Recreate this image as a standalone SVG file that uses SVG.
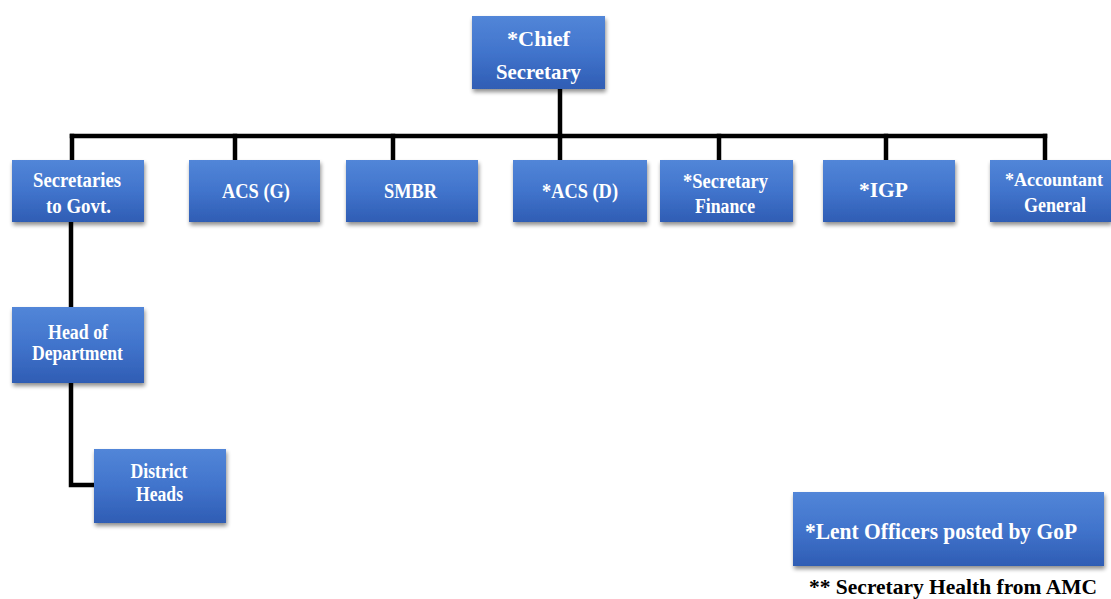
<svg xmlns="http://www.w3.org/2000/svg" width="1111" height="599" viewBox="0 0 1111 599">
<defs>
<linearGradient id="bg" x1="0" y1="0" x2="0" y2="1">
<stop offset="0" stop-color="#5286d8"/>
<stop offset="0.5" stop-color="#4174cc"/>
<stop offset="1" stop-color="#2f5db4"/>
</linearGradient>
<filter id="sh" x="-10%" y="-10%" width="125%" height="135%">
<feGaussianBlur in="SourceAlpha" stdDeviation="2"/>
<feOffset dx="1" dy="3" result="b"/>
<feComponentTransfer><feFuncA type="linear" slope="0.45"/></feComponentTransfer>
<feMerge><feMergeNode/><feMergeNode in="SourceGraphic"/></feMerge>
</filter>
</defs>
<style>
.box{fill:url(#bg);filter:url(#sh);}
.t{font-family:"Liberation Serif","Times New Roman",serif;font-weight:bold;font-size:20px;fill:#ffffff;text-anchor:middle;}
.t1{font-size:21px;}
.tc{font-size:22px;}
.ts{font-size:18.5px;}
.ln{stroke:#000;stroke-width:4.5;fill:none;stroke-linecap:square;}
</style>
<rect width="1111" height="599" fill="#ffffff"/>
<g id="connectors">
<path class="ln" d="M560 89 V136"/>
<path class="ln" d="M72 136 H1045"/>
<path class="ln" d="M72 136 V160"/>
<path class="ln" d="M235 136 V160"/>
<path class="ln" d="M393 136 V160"/>
<path class="ln" d="M560 136 V160"/>
<path class="ln" d="M719 136 V160"/>
<path class="ln" d="M886 136 V160"/>
<path class="ln" d="M1045 136 V160"/>
<path class="ln" d="M71 222 V307"/>
<path class="ln" d="M71 383 V485 H94"/>
</g>
<g id="chief">
<rect class="box" x="472" y="16" width="133" height="73"/>
<text class="t tc" x="538.5" y="45.5" textLength="63" lengthAdjust="spacingAndGlyphs">*Chief</text>
<text class="t tc" x="538.5" y="79" textLength="85" lengthAdjust="spacingAndGlyphs">Secretary</text>
</g>
<g id="secretaries">
<rect class="box" x="12" y="160" width="132" height="62"/>
<text class="t" x="77" y="187" textLength="88" lengthAdjust="spacingAndGlyphs">Secretaries</text>
<text class="t" x="78.5" y="213" textLength="65" lengthAdjust="spacingAndGlyphs">to Govt.</text>
</g>
<g id="acsg">
<rect class="box" x="189" y="160" width="131" height="62"/>
<text class="t t1" x="256" y="197.5" textLength="68" lengthAdjust="spacingAndGlyphs">ACS (G)</text>
</g>
<g id="smbr">
<rect class="box" x="346" y="160" width="132" height="62"/>
<text class="t t1" x="410.5" y="197.5" textLength="53" lengthAdjust="spacingAndGlyphs">SMBR</text>
</g>
<g id="acsd">
<rect class="box" x="513" y="160" width="134" height="62"/>
<text class="t t1" x="580" y="197.5" textLength="76" lengthAdjust="spacingAndGlyphs">*ACS (D)</text>
</g>
<g id="secfinance">
<rect class="box" x="660" y="160" width="133" height="62"/>
<text class="t" x="725.5" y="188" textLength="85" lengthAdjust="spacingAndGlyphs">*Secretary</text>
<text class="t" x="725" y="212.5" textLength="60" lengthAdjust="spacingAndGlyphs">Finance</text>
</g>
<g id="igp">
<rect class="box" x="823" y="160" width="132" height="62"/>
<text class="t t1" x="883.5" y="197" textLength="49" lengthAdjust="spacingAndGlyphs">*IGP</text>
</g>
<g id="accountant">
<rect class="box" x="990" y="160" width="121" height="62"/>
<text class="t ts" x="1054" y="186" textLength="98" lengthAdjust="spacingAndGlyphs">*Accountant</text>
<text class="t" x="1055" y="212" textLength="62" lengthAdjust="spacingAndGlyphs">General</text>
</g>
<g id="headdept">
<rect class="box" x="12" y="307" width="132" height="76"/>
<text class="t" x="78" y="339" textLength="60" lengthAdjust="spacingAndGlyphs">Head of</text>
<text class="t" x="77.5" y="360" textLength="91" lengthAdjust="spacingAndGlyphs">Department</text>
</g>
<g id="district">
<rect class="box" x="94" y="449" width="132" height="74"/>
<text class="t" x="159" y="478" textLength="57" lengthAdjust="spacingAndGlyphs">District</text>
<text class="t" x="159.5" y="501" textLength="47" lengthAdjust="spacingAndGlyphs">Heads</text>
</g>
<g id="legend">
<rect class="box" x="793" y="492" width="311" height="74"/>
<text x="805" y="539" textLength="272" lengthAdjust="spacingAndGlyphs" style="font-family:'Liberation Serif','Times New Roman',serif;font-weight:bold;font-size:23px;fill:#fff;">*Lent Officers posted by GoP</text>
</g>
<g id="note">
<text x="809" y="594" textLength="288" lengthAdjust="spacingAndGlyphs" style="font-family:'Liberation Serif','Times New Roman',serif;font-weight:bold;font-size:22px;fill:#000;">** Secretary Health from AMC</text>
</g>
</svg>
